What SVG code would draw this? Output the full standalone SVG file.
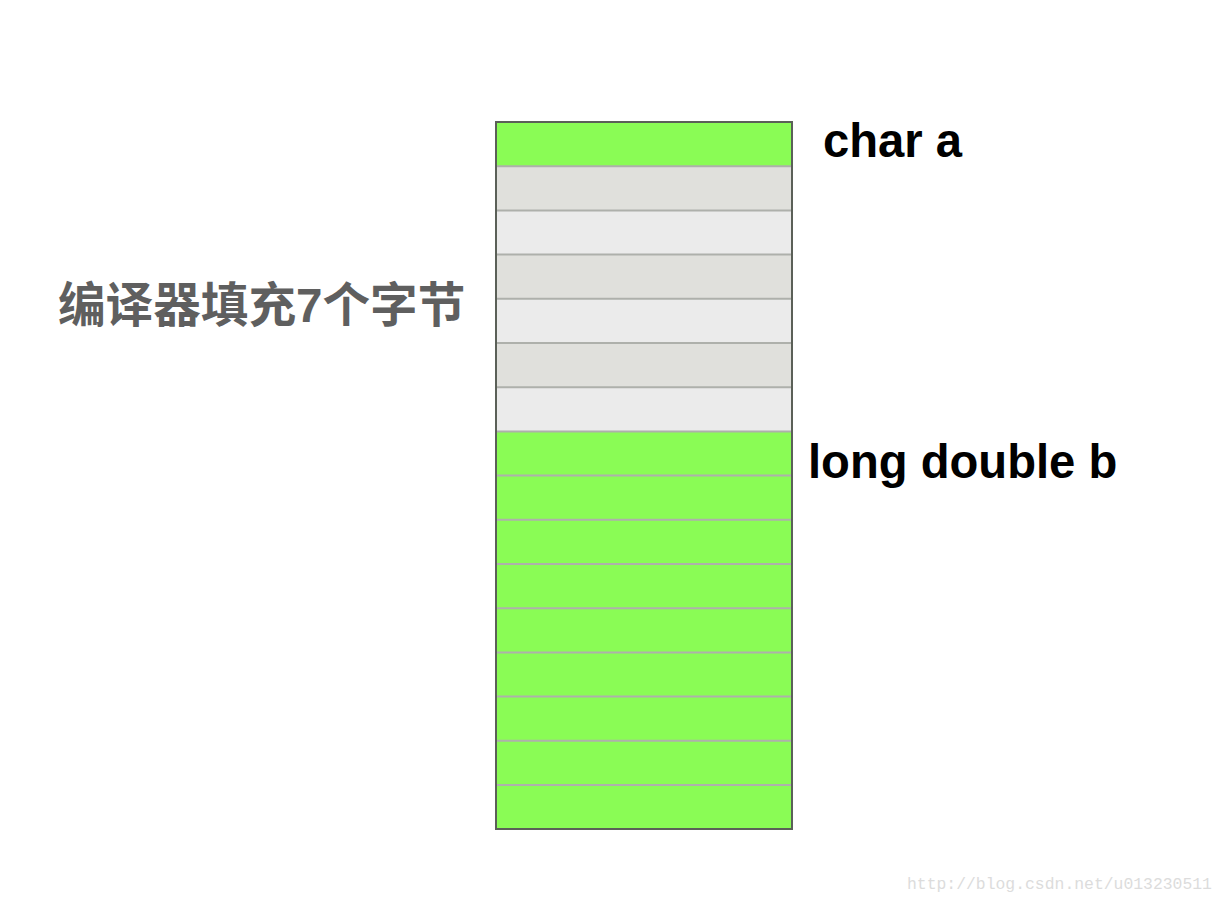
<svg xmlns="http://www.w3.org/2000/svg" width="1228" height="906" viewBox="0 0 1228 906">
<style>
.g{fill:#8afc55}
.d{fill:#e0e0dc}
.l{fill:#ebebeb}
.div{stroke:#aeb0ab;stroke-width:2}
.lbl{font-family:"Liberation Sans",Arial,sans-serif;font-weight:bold;font-size:47.2px;fill:#000}
.cn{font-family:"Liberation Sans","Noto Sans CJK SC",sans-serif;font-weight:bold;font-size:47.6px;fill:#5f5f5f}
.wm{font-family:"Liberation Mono","DejaVu Sans Mono",monospace;font-size:16.4px;fill:#dcdcdc}
</style>
<rect width="1228" height="906" fill="#ffffff"/>
<g id="stack">
<rect class="g" x="496" y="122" width="296" height="44.2"/>
<rect class="d" x="496" y="166.2" width="296" height="44.2"/>
<rect class="l" x="496" y="210.4" width="296" height="44.2"/>
<rect class="d" x="496" y="254.6" width="296" height="44.2"/>
<rect class="l" x="496" y="298.8" width="296" height="44.2"/>
<rect class="d" x="496" y="343" width="296" height="44.2"/>
<rect class="l" x="496" y="387.2" width="296" height="44.2"/>
<rect class="g" x="496" y="431.4" width="296" height="397.6"/>
<g class="div">
<line x1="497" y1="166.2" x2="791" y2="166.2"/>
<line x1="497" y1="210.4" x2="791" y2="210.4"/>
<line x1="497" y1="254.6" x2="791" y2="254.6"/>
<line x1="497" y1="298.8" x2="791" y2="298.8"/>
<line x1="497" y1="343" x2="791" y2="343"/>
<line x1="497" y1="387.2" x2="791" y2="387.2"/>
<line x1="497" y1="431.4" x2="791" y2="431.4"/>
<line x1="497" y1="475.6" x2="791" y2="475.6"/>
<line x1="497" y1="519.8" x2="791" y2="519.8"/>
<line x1="497" y1="564" x2="791" y2="564"/>
<line x1="497" y1="608.2" x2="791" y2="608.2"/>
<line x1="497" y1="652.4" x2="791" y2="652.4"/>
<line x1="497" y1="696.6" x2="791" y2="696.6"/>
<line x1="497" y1="740.8" x2="791" y2="740.8"/>
<line x1="497" y1="785" x2="791" y2="785"/>
</g>
<rect x="496" y="122" width="296" height="707" fill="none" stroke="#5b6058" stroke-width="2"/>
</g>
<g id="label-char"><text class="lbl" x="823" y="157">char a</text></g>
<g id="label-long"><text class="lbl" x="808" y="478">long double b</text></g>
<g id="label-pad"><text class="cn" x="58" y="322">编译器填充7个字节</text></g>
<text class="wm" x="907" y="889">http://blog.csdn.net/u013230511</text>
</svg>
